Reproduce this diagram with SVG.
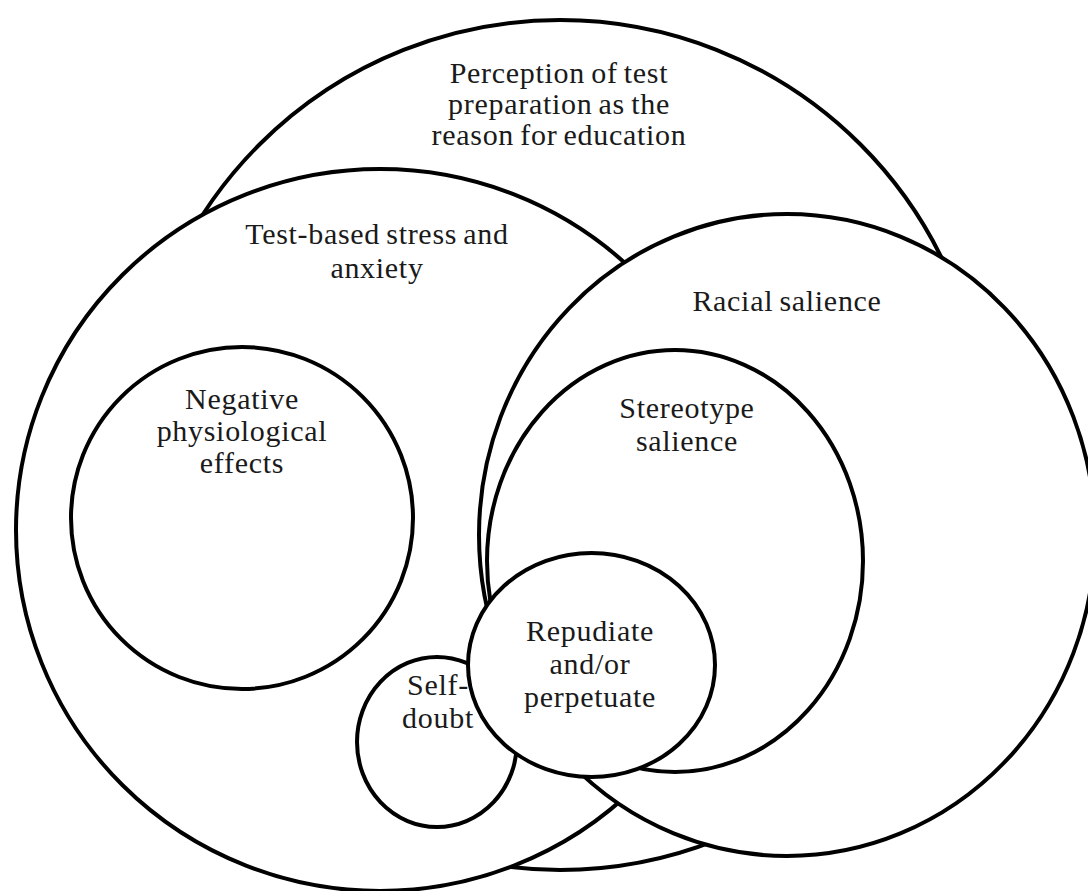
<svg xmlns="http://www.w3.org/2000/svg" width="1088" height="891" viewBox="0 0 1088 891">
<style>
.c{fill:#fff;stroke:#000;stroke-width:4}
.t{font-family:"Liberation Serif","Times New Roman",serif;font-size:30px;letter-spacing:0.7px;word-spacing:-2px;fill:#1a1a1a;text-anchor:middle}
</style>
<rect width="1088" height="891" fill="#fff"/>
<g id="perception">
<circle class="c" cx="560" cy="445" r="425"/>
<text class="t" x="559" y="83">Perception of test</text>
<text class="t" x="559" y="114">preparation as the</text>
<text class="t" x="559" y="145">reason for education</text>
</g>
<g id="test-based">
<ellipse class="c" cx="380" cy="530" rx="364" ry="361"/>
<text class="t" x="377" y="244">Test-based stress and</text>
<text class="t" x="377" y="278">anxiety</text>
</g>
<g id="racial">
<ellipse class="c" cx="787" cy="535" rx="308" ry="321"/>
<text class="t" x="787" y="311">Racial salience</text>
</g>
<g id="negative">
<circle class="c" cx="242" cy="518" r="171"/>
<text class="t" x="242" y="409">Negative</text>
<text class="t" x="242" y="441">physiological</text>
<text class="t" x="242" y="473">effects</text>
</g>
<g id="stereotype">
<ellipse class="c" cx="675" cy="561" rx="188" ry="211"/>
<text class="t" x="687" y="418">Stereotype</text>
<text class="t" x="687" y="451">salience</text>
</g>
<g id="self-doubt">
<ellipse class="c" cx="437" cy="742" rx="80" ry="85"/>
<text class="t" x="438" y="695">Self-</text>
<text class="t" x="438" y="728">doubt</text>
</g>
<g id="repudiate">
<ellipse class="c" cx="591.5" cy="665" rx="123.5" ry="112"/>
<text class="t" x="590" y="641">Repudiate</text>
<text class="t" x="590" y="674">and/or</text>
<text class="t" x="590" y="707">perpetuate</text>
</g>
<g id="connectors"/>
</svg>
